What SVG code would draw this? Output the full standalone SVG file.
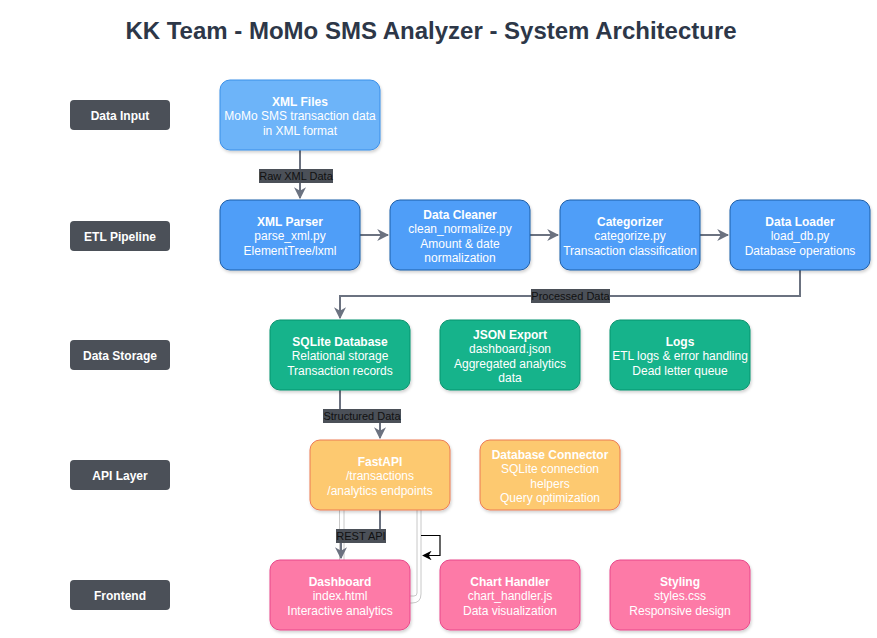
<svg xmlns="http://www.w3.org/2000/svg" width="877" height="638" viewBox="0 0 877 638">
<defs>
<filter id="sh" x="-10%" y="-10%" width="130%" height="140%">
<feDropShadow dx="1" dy="2" stdDeviation="1.5" flood-color="#000" flood-opacity="0.18"/>
</filter>
<marker id="ag" viewBox="0 0 10 10" refX="9" refY="5" markerWidth="6" markerHeight="6" orient="auto-start-reverse" markerUnits="strokeWidth">
<path d="M0,0 L10,5 L0,10 L3,5 z" fill="#6b7280"/>
</marker>
<marker id="ab" viewBox="0 0 10 10" refX="9" refY="5" markerWidth="8" markerHeight="8" orient="auto" markerUnits="strokeWidth">
<path d="M0,0 L10,5 L0,10 L3,5 z" fill="#000"/>
</marker>
</defs>
<style>
text{font-family:"Liberation Sans",Arial,Helvetica,sans-serif;}
.title{font-size:24px;font-weight:bold;fill:#2d3748;text-anchor:middle;}
.lay rect{fill:#4b5058;}
.lay text{fill:#fff;font-size:12px;font-weight:bold;text-anchor:middle;}
.n rect{filter:url(#sh);stroke-width:1;}
.n text{fill:#fff;font-size:12px;text-anchor:middle;}
.n text .b{font-weight:bold;}
.in rect{fill:#6db4f9;stroke:#3b8fe8;}
.etl rect{fill:#4f9ef8;stroke:#1d5ea8;}
.st rect{fill:#14b38b;stroke:#0d936f;}
.api rect{fill:#fdc970;stroke:#ec7b55;}
.fe rect{fill:#fd7aa7;stroke:#e8488a;}
.e{fill:none;stroke:#6b7280;stroke-width:2;marker-end:url(#ag);}
.el rect{fill:#4b5058;}
.el text{fill:#111;font-size:11px;text-anchor:middle;}
.ghost{fill:none;stroke:#c8c8c8;stroke-width:1;}
</style>
<text class="title" x="431" y="39">KK Team - MoMo SMS Analyzer - System Architecture</text>

<g id="layers" class="lay">
<g id="layer-input"><rect x="70" y="100" width="100" height="30" rx="4"/><text x="120" y="119.5">Data Input</text></g>
<g id="layer-etl"><rect x="70" y="221" width="100" height="30" rx="4"/><text x="120" y="240.5">ETL Pipeline</text></g>
<g id="layer-storage"><rect x="70" y="340" width="100" height="30" rx="4"/><text x="120" y="359.5">Data Storage</text></g>
<g id="layer-api"><rect x="70" y="460" width="100" height="30" rx="4"/><text x="120" y="479.5">API Layer</text></g>
<g id="layer-frontend"><rect x="70" y="580" width="100" height="30" rx="4"/><text x="120" y="599.5">Frontend</text></g>
</g>

<g id="connectors">
<path class="ghost" d="M339.5,510 V560 M344,510 V560"/>
<path class="ghost" d="M417,510 V593 Q417,596 414,596 H410 M421,510 V594 Q421,603 412,603 H410"/>
<path class="e" d="M300,150 V198"/>
<path class="e" d="M360,235 H388"/>
<path class="e" d="M530,235 H558"/>
<path class="e" d="M700,235 H728"/>
<path class="e" d="M800,270 V296 H340 V318"/>
<path class="e" d="M340,390 V415 H380 V438"/>
<path class="e" d="M380,510 V535 H341 V558"/>
<path d="M421,535.5 H440 V555.5 H423" fill="none" stroke="#000" stroke-width="1.2" marker-end="url(#ab)"/>
<g class="el">
<g><rect x="259" y="169" width="74" height="14"/><text x="296" y="180">Raw XML Data</text></g>
<g><rect x="531" y="289" width="79" height="14"/><text x="570.5" y="300">Processed Data</text></g>
<g><rect x="323" y="409" width="78" height="14"/><text x="362" y="420">Structured Data</text></g>
<g><rect x="336" y="529" width="50" height="14"/><text x="361" y="540">REST API</text></g>
</g>
</g>

<g id="xml-files" class="n in"><rect x="220" y="80" width="160" height="70" rx="10"/>
<text x="300" y="105.5"><tspan class="b">XML Files</tspan><tspan x="300" dy="14.5">MoMo SMS transaction data</tspan><tspan x="300" dy="14.5">in XML format</tspan></text></g>

<g id="xml-parser" class="n etl"><rect x="220" y="200" width="140" height="70" rx="10"/>
<text x="290" y="225.5"><tspan class="b">XML Parser</tspan><tspan x="290" dy="14.5">parse_xml.py</tspan><tspan x="290" dy="14.5">ElementTree/lxml</tspan></text></g>

<g id="data-cleaner" class="n etl"><rect x="390" y="200" width="140" height="70" rx="10"/>
<text x="460" y="218.5"><tspan class="b">Data Cleaner</tspan><tspan x="460" dy="14.5">clean_normalize.py</tspan><tspan x="460" dy="14.5">Amount &amp; date</tspan><tspan x="460" dy="14.5">normalization</tspan></text></g>

<g id="categorizer" class="n etl"><rect x="560" y="200" width="140" height="70" rx="10"/>
<text x="630" y="225.5"><tspan class="b">Categorizer</tspan><tspan x="630" dy="14.5">categorize.py</tspan><tspan x="630" dy="14.5">Transaction classification</tspan></text></g>

<g id="data-loader" class="n etl"><rect x="730" y="200" width="140" height="70" rx="10"/>
<text x="800" y="225.5"><tspan class="b">Data Loader</tspan><tspan x="800" dy="14.5">load_db.py</tspan><tspan x="800" dy="14.5">Database operations</tspan></text></g>

<g id="sqlite" class="n st"><rect x="270" y="320" width="140" height="70" rx="10"/>
<text x="340" y="345.5"><tspan class="b">SQLite Database</tspan><tspan x="340" dy="14.5">Relational storage</tspan><tspan x="340" dy="14.5">Transaction records</tspan></text></g>

<g id="json-export" class="n st"><rect x="440" y="320" width="140" height="70" rx="10"/>
<text x="510" y="338.5"><tspan class="b">JSON Export</tspan><tspan x="510" dy="14.5">dashboard.json</tspan><tspan x="510" dy="14.5">Aggregated analytics</tspan><tspan x="510" dy="14.5">data</tspan></text></g>

<g id="logs" class="n st"><rect x="610" y="320" width="140" height="70" rx="10"/>
<text x="680" y="345.5"><tspan class="b">Logs</tspan><tspan x="680" dy="14.5">ETL logs &amp; error handling</tspan><tspan x="680" dy="14.5">Dead letter queue</tspan></text></g>

<g id="fastapi" class="n api"><rect x="310" y="440" width="140" height="70" rx="10"/>
<text x="380" y="465.5"><tspan class="b">FastAPI</tspan><tspan x="380" dy="14.5">/transactions</tspan><tspan x="380" dy="14.5">/analytics endpoints</tspan></text></g>

<g id="db-connector" class="n api"><rect x="480" y="440" width="140" height="70" rx="10"/>
<text x="550" y="458.5"><tspan class="b">Database Connector</tspan><tspan x="550" dy="14.5">SQLite connection</tspan><tspan x="550" dy="14.5">helpers</tspan><tspan x="550" dy="14.5">Query optimization</tspan></text></g>

<g id="dashboard" class="n fe"><rect x="270" y="560" width="140" height="70" rx="10"/>
<text x="340" y="585.5"><tspan class="b">Dashboard</tspan><tspan x="340" dy="14.5">index.html</tspan><tspan x="340" dy="14.5">Interactive analytics</tspan></text></g>

<g id="chart-handler" class="n fe"><rect x="440" y="560" width="140" height="70" rx="10"/>
<text x="510" y="585.5"><tspan class="b">Chart Handler</tspan><tspan x="510" dy="14.5">chart_handler.js</tspan><tspan x="510" dy="14.5">Data visualization</tspan></text></g>

<g id="styling" class="n fe"><rect x="610" y="560" width="140" height="70" rx="10"/>
<text x="680" y="585.5"><tspan class="b">Styling</tspan><tspan x="680" dy="14.5">styles.css</tspan><tspan x="680" dy="14.5">Responsive design</tspan></text></g>
</svg>
